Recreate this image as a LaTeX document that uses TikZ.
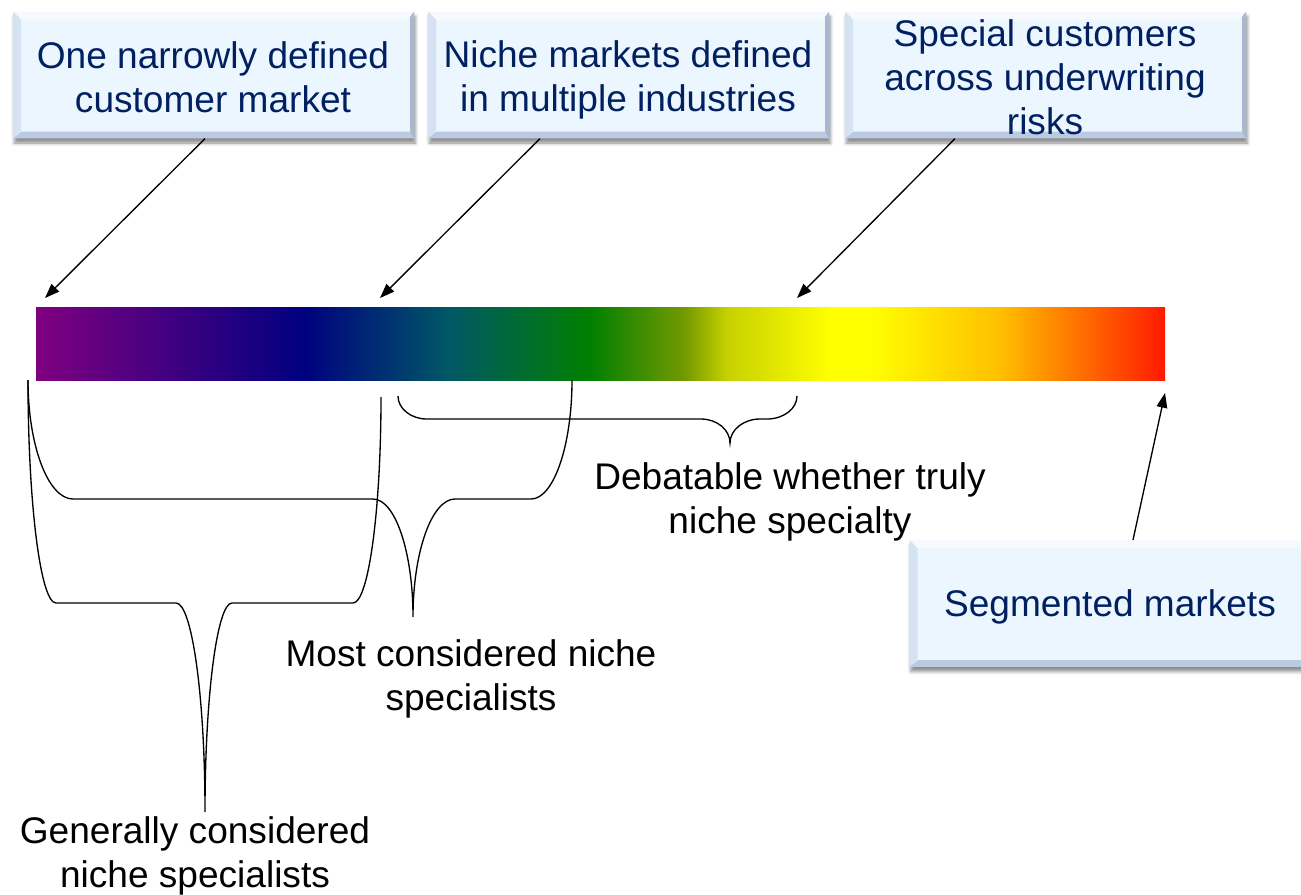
\documentclass[tikz,border=0pt]{standalone}
\usepackage{fontspec}
\setmainfont{Liberation Sans}
\usetikzlibrary{arrows.meta,calc,shadows.blur}

\definecolor{boxtext}{RGB}{0,32,96}
\definecolor{boxface}{RGB}{236,246,255}
\definecolor{bevtop}{RGB}{246,250,255}
\definecolor{bevleft}{RGB}{212,226,244}
\definecolor{bevright}{RGB}{168,184,208}
\definecolor{bevbottom}{RGB}{186,202,225}

% purple - navy - teal - green - olive - yellow - orange - red, fitted to the middle 50bp
\pgfdeclarehorizontalshading{spectrum}{100bp}{%
  rgb(0bp)=(.5,0,.5); rgb(25bp)=(.5,0,.5);
  rgb(36.83bp)=(0,0,.5);
  rgb(43.2bp)=(0,.34,.4);
  rgb(49.54bp)=(0,.5,0);
  rgb(53.7bp)=(.45,.6,0);
  rgb(55.6bp)=(.78,.82,0);
  rgb(60.16bp)=(1,1,0); rgb(61.95bp)=(1,1,0);
  rgb(67.7bp)=(1,.75,0);
  rgb(75bp)=(1,.1,0); rgb(100bp)=(1,.1,0)}

\newcommand\bigfont{\fontsize{27.8pt}{33pt}\selectfont}

\tikzset{
  bevelbox/.style={rectangle, minimum width=300.75pt, minimum height=95pt,
    inner sep=0pt, fill=boxface,
    blur shadow={shadow xshift=1pt, shadow yshift=-3.5pt,
      shadow blur radius=2.5pt, shadow opacity=45},
    path picture={
      \fill[bevtop] (path picture bounding box.north west) -- (path picture bounding box.north east)
        -- ([shift={(-6pt,-6pt)}]path picture bounding box.north east)
        -- ([shift={(6pt,-6pt)}]path picture bounding box.north west) -- cycle;
      \fill[bevleft] (path picture bounding box.north west) -- (path picture bounding box.south west)
        -- ([shift={(6pt,6pt)}]path picture bounding box.south west)
        -- ([shift={(6pt,-6pt)}]path picture bounding box.north west) -- cycle;
      \fill[bevright] (path picture bounding box.north east) -- (path picture bounding box.south east)
        -- ([shift={(-3pt,4pt)}]path picture bounding box.south east)
        -- ([shift={(-3pt,-4pt)}]path picture bounding box.north east) -- cycle;
      \fill[bevbottom] (path picture bounding box.south west) -- (path picture bounding box.south east)
        -- ([shift={(-3pt,5pt)}]path picture bounding box.south east)
        -- ([shift={(6pt,5pt)}]path picture bounding box.south west) -- cycle;
    }},
  boxlabel/.style={align=center, text=boxtext, font=\bigfont, inner sep=0pt},
  plainlabel/.style={align=center, text=black, font=\bigfont, inner sep=0pt},
  spectrumbar/.style={rectangle, minimum width=846.75pt, minimum height=54.75pt,
    inner sep=0pt, shading=spectrum},
  pointer/.style={draw=black, line width=1pt, -{Triangle[length=11pt,width=8pt]}},
  bracepath/.style={draw=black, line width=1pt},
}

\begin{document}
\begin{tikzpicture}[x=0.75pt, y=-0.75pt]
\useasboundingbox (0,0) rectangle (1301,894);

% the colour scale
\node[spectrumbar] (bar) at (600.5,343.5) {};

% boxes along the top and the one at the lower right
\node[bevelbox] (b1) at (213.5,75) {};
\node[bevelbox] (b2) at (628.5,75) {};
\node[bevelbox] (b3) at (1045.5,75) {};
\node[bevelbox] (b4) at (1110,603.5) {};

\node[boxlabel] (t1) at (213,77) {One narrowly defined\\customer market};
\node[boxlabel] (t2) at (628,80) {Niche markets defined\\in multiple industries};
\node[boxlabel] (t3) at (1045,77) {Special customers\\across underwriting\\risks};
\node[boxlabel] (t4) at (1110,607) {Segmented markets};

% points on the scale that the boxes refer to
\coordinate (p1) at (45,298);
\coordinate (p2) at (380,298);
\coordinate (p3) at (797,298);
\coordinate (p4) at (1165,393);

\draw[pointer] ($(b1.south)+(-8.5,0)$) -- (p1);
\draw[pointer] ($(b2.south)+(-88.5,0)$) -- (p2);
\draw[pointer] ($(b3.south)+(-90.5,0)$) -- (p3);
\draw[pointer] ($(b4.north)+(23,0)$) -- (p4);

% brace: generally considered niche specialists
\draw[bracepath] (28,380) .. controls (28,503) and (40.5,603) .. (56,603)
  -- (176,603) .. controls (192,603) and (205,696.6) .. (205,812)
  .. controls (205,696.6) and (217.1,603) .. (232,603)
  -- (353,603) .. controls (368.5,603) and (381,510.7) .. (381,397);

% brace: most considered niche specialists
\draw[bracepath] (28,380) .. controls (28,445.7) and (48.2,499) .. (73,499)
  -- (373,499) .. controls (395.1,499) and (413,551.9) .. (413,617)
  .. controls (413,551.9) and (431.8,499) .. (455,499)
  -- (531,499) .. controls (553.6,499) and (572,445.7) .. (572,380);

% brace: debatable
\draw[bracepath] (398,396) .. controls (398,408.7) and (411,419) .. (427,419)
  -- (701,419) .. controls (717,419) and (730,429.8) .. (730,443)
  .. controls (730,429.8) and (743.5,419) .. (760,419)
  -- (767,419) .. controls (783.6,419) and (797,408.7) .. (797,396);

\node[plainlabel] (l1) at (790,502) {Debatable whether truly\\niche specialty};
\node[plainlabel] (l2) at (471,679) {Most considered niche\\specialists};
\node[plainlabel] (l3) at (195,856) {Generally considered\\niche specialists};
\end{tikzpicture}
\end{document}
